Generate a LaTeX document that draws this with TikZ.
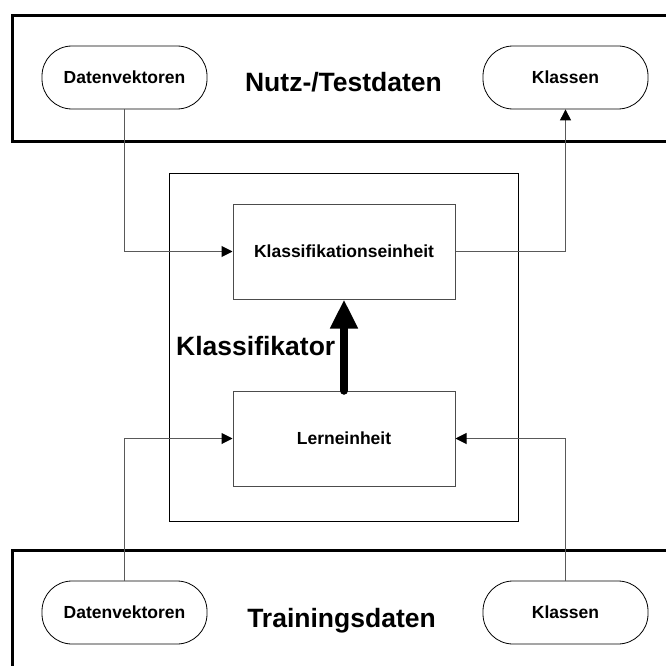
\documentclass[tikz,border=0pt]{standalone}
\usepackage{fontspec}
\setmainfont{Liberation Sans}
\usetikzlibrary{arrows.meta}

\tikzset{
  frame/.style={draw=black, line width=3pt, fill=white, inner sep=0pt},
  pill/.style={draw=black, line width=0.8pt, rounded corners=30pt, fill=white,
    minimum width=165pt, minimum height=63pt, inner sep=0pt,
    font=\fontsize{17.5}{20}\selectfont\bfseries},
  unitbox/.style={draw=black!70, line width=1pt, fill=white,
    minimum width=222pt, minimum height=95pt, inner sep=0pt,
    font=\fontsize{17.5}{20}\selectfont\bfseries},
  outerbox/.style={draw=black, line width=1pt, inner sep=0pt},
  biglabel/.style={inner sep=0pt, font=\fontsize{26.5}{30}\selectfont\bfseries},
  conn/.style={draw=black!65, line width=1pt,
    -{Triangle[length=11pt,width=11pt,fill=black,color=black]}},
  bigarrow/.style={draw=black, line width=8.5pt, line cap=round,
    -{Triangle[length=29pt,width=26pt]}}
}

\begin{document}
\begin{tikzpicture}[x=1pt,y=-1pt]
\useasboundingbox (0,0) rectangle (666,666);
\clip (0,0) rectangle (666,666);

% data frames (they run past the right and lower edges)
\node[frame, minimum width=700pt, minimum height=126pt, anchor=north west] (tframe) at (11,14) {};
\node[frame, minimum width=700pt, minimum height=140pt, anchor=north west] (bframe) at (11,549) {};

% classifier with its two units
\node[outerbox, minimum width=349pt, minimum height=348pt] (kbox) at (343.5,347) {};
\node[unitbox] (ke) at (344,251.5) {Klassifikationseinheit};
\node[unitbox] (le) at (344,438.5) {Lerneinheit};

% use/test data
\node[pill] (dv1) at (124.5,77.5) {Datenvektoren};
\node[pill] (kl1) at (565.5,77.5) {Klassen};
\node[biglabel, anchor=base] (nt) at (343.5,91.7) {Nutz-/Testdaten};

% training data
\node[pill] (dv2) at (124.5,612.5) {Datenvektoren};
\node[pill] (kl2) at (565.5,612.5) {Klassen};
\node[biglabel, anchor=base] (tr) at (341.5,627.5) {Trainingsdaten};

\node[biglabel, anchor=base east] (kl) at (335.5,355) {Klassifikator};

% data flow
\draw[conn] (dv1.south) |- (ke.west);
\draw[conn] (ke.east) -| (kl1.south);
\draw[conn] (dv2.north) |- (le.west);
\draw[conn] (kl2.north) |- (le.east);

% learned classifier passed on
\draw[bigarrow] (le.north) -- (ke.south);
\end{tikzpicture}
\end{document}
